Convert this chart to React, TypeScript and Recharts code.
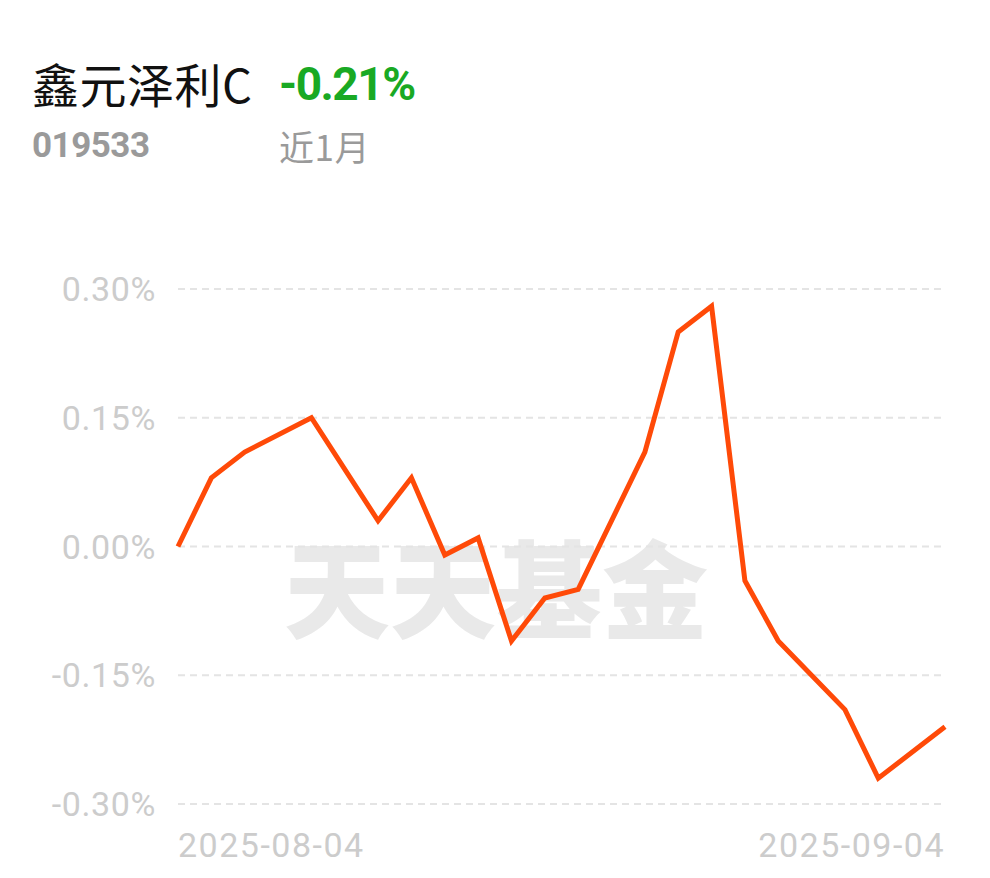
import { LineChart, Line, XAxis, YAxis, CartesianGrid } from "recharts";

// Trading days in the window; days without a readable point are null and the line runs straight through them.
const dates = [
  "2025-08-04", "2025-08-05", "2025-08-06", "2025-08-07", "2025-08-08",
  "2025-08-11", "2025-08-12", "2025-08-13", "2025-08-14", "2025-08-15",
  "2025-08-18", "2025-08-19", "2025-08-20", "2025-08-21", "2025-08-22",
  "2025-08-25", "2025-08-26", "2025-08-27", "2025-08-28", "2025-08-29",
  "2025-09-01", "2025-09-02", "2025-09-03", "2025-09-04",
];
const returns: (number | null)[] = [
  0.0, 0.08, 0.11, null, 0.15,
  null, 0.03, 0.08, -0.01, 0.01,
  -0.11, -0.06, -0.05, null, 0.11,
  0.25, 0.28, -0.04, -0.11, null,
  -0.19, -0.27, null, -0.21,
];
const yTicks = [-0.3, -0.15, 0, 0.15, 0.3];
const xTicks = [dates[0], dates[dates.length - 1]];

const fundName = "鑫元泽利C";
const fundCode = "019533";
const periodReturn = "-0.21%";
const periodLabel = "近1月";

const data = dates.map((d, i) => ({ date: d, value: returns[i] }));

const LATIN = "Roboto, 'Noto Sans CJK SC', sans-serif";
const CJK = "'Noto Sans CJK SC', Roboto, sans-serif";

function XTick(props: any) {
  const { x, y, payload, index } = props;
  const anchor = index === 0 ? "start" : "end";
  return (
    <text x={x} y={y} textAnchor={anchor} fill="#cccccc" fontSize={34} letterSpacing={1.5} fontFamily={LATIN} dominantBaseline="central">
      {payload.value}
    </text>
  );
}

export default function App() {
  return (
    <div style={{ position: "relative", width: 990, height: 878, margin: -8, background: "#fff", overflow: "hidden" }}>
      <div style={{ position: "absolute", left: 32, top: 55, fontFamily: CJK, fontSize: 47, color: "#111", lineHeight: "56px", letterSpacing: 0.5 }}>
        {fundName}
      </div>
      <div style={{ position: "absolute", left: 279, top: 56, fontFamily: LATIN, fontSize: 46, fontWeight: 700, color: "#19a924", lineHeight: "56px", letterSpacing: -1.5 }}>
        {periodReturn}
      </div>
      <div style={{ position: "absolute", left: 32, top: 124, fontFamily: LATIN, fontSize: 35, fontWeight: 700, color: "#9a9a9a", lineHeight: "44px", letterSpacing: -0.5 }}>
        {fundCode}
      </div>
      <div style={{ position: "absolute", left: 279, top: 124, fontFamily: CJK, fontSize: 35, color: "#9a9a9a", lineHeight: "44px", letterSpacing: 0.5 }}>
        {periodLabel}
      </div>
      <div style={{ position: "absolute", left: 284, top: 514, fontFamily: CJK, fontSize: 106, fontWeight: 900, color: "#e9e9e9", lineHeight: "140px", whiteSpace: "nowrap" }}>
        天天基金
      </div>
      <div style={{ position: "absolute", left: 0, top: 0 }}>
        <LineChart width={990} height={878} data={data} margin={{ top: 289, right: 45, bottom: 0, left: 28 }}>
          <CartesianGrid vertical={false} stroke="#e4e4e4" strokeWidth={2} strokeDasharray="7 5" />
          <XAxis
            dataKey="date"
            ticks={xTicks}
            interval={0}
            axisLine={false}
            tickLine={false}
            tickSize={0}
            tickMargin={41}
            height={74}
            tick={<XTick />}
          />
          <YAxis
            domain={[-0.3, 0.3]}
            ticks={yTicks}
            width={150}
            axisLine={false}
            tickLine={false}
            tickSize={0}
            tickMargin={22}
            tickFormatter={(v: number) => `${v.toFixed(2)}%`}
            tick={{ fill: "#cccccc", fontSize: 34, fontFamily: LATIN, letterSpacing: 0.6 }}
          />
          <Line
            type="linear"
            dataKey="value"
            stroke="#ff4a08"
            strokeWidth={5}
            dot={false}
            connectNulls
            isAnimationActive={false}
          />
        </LineChart>
      </div>
    </div>
  );
}
